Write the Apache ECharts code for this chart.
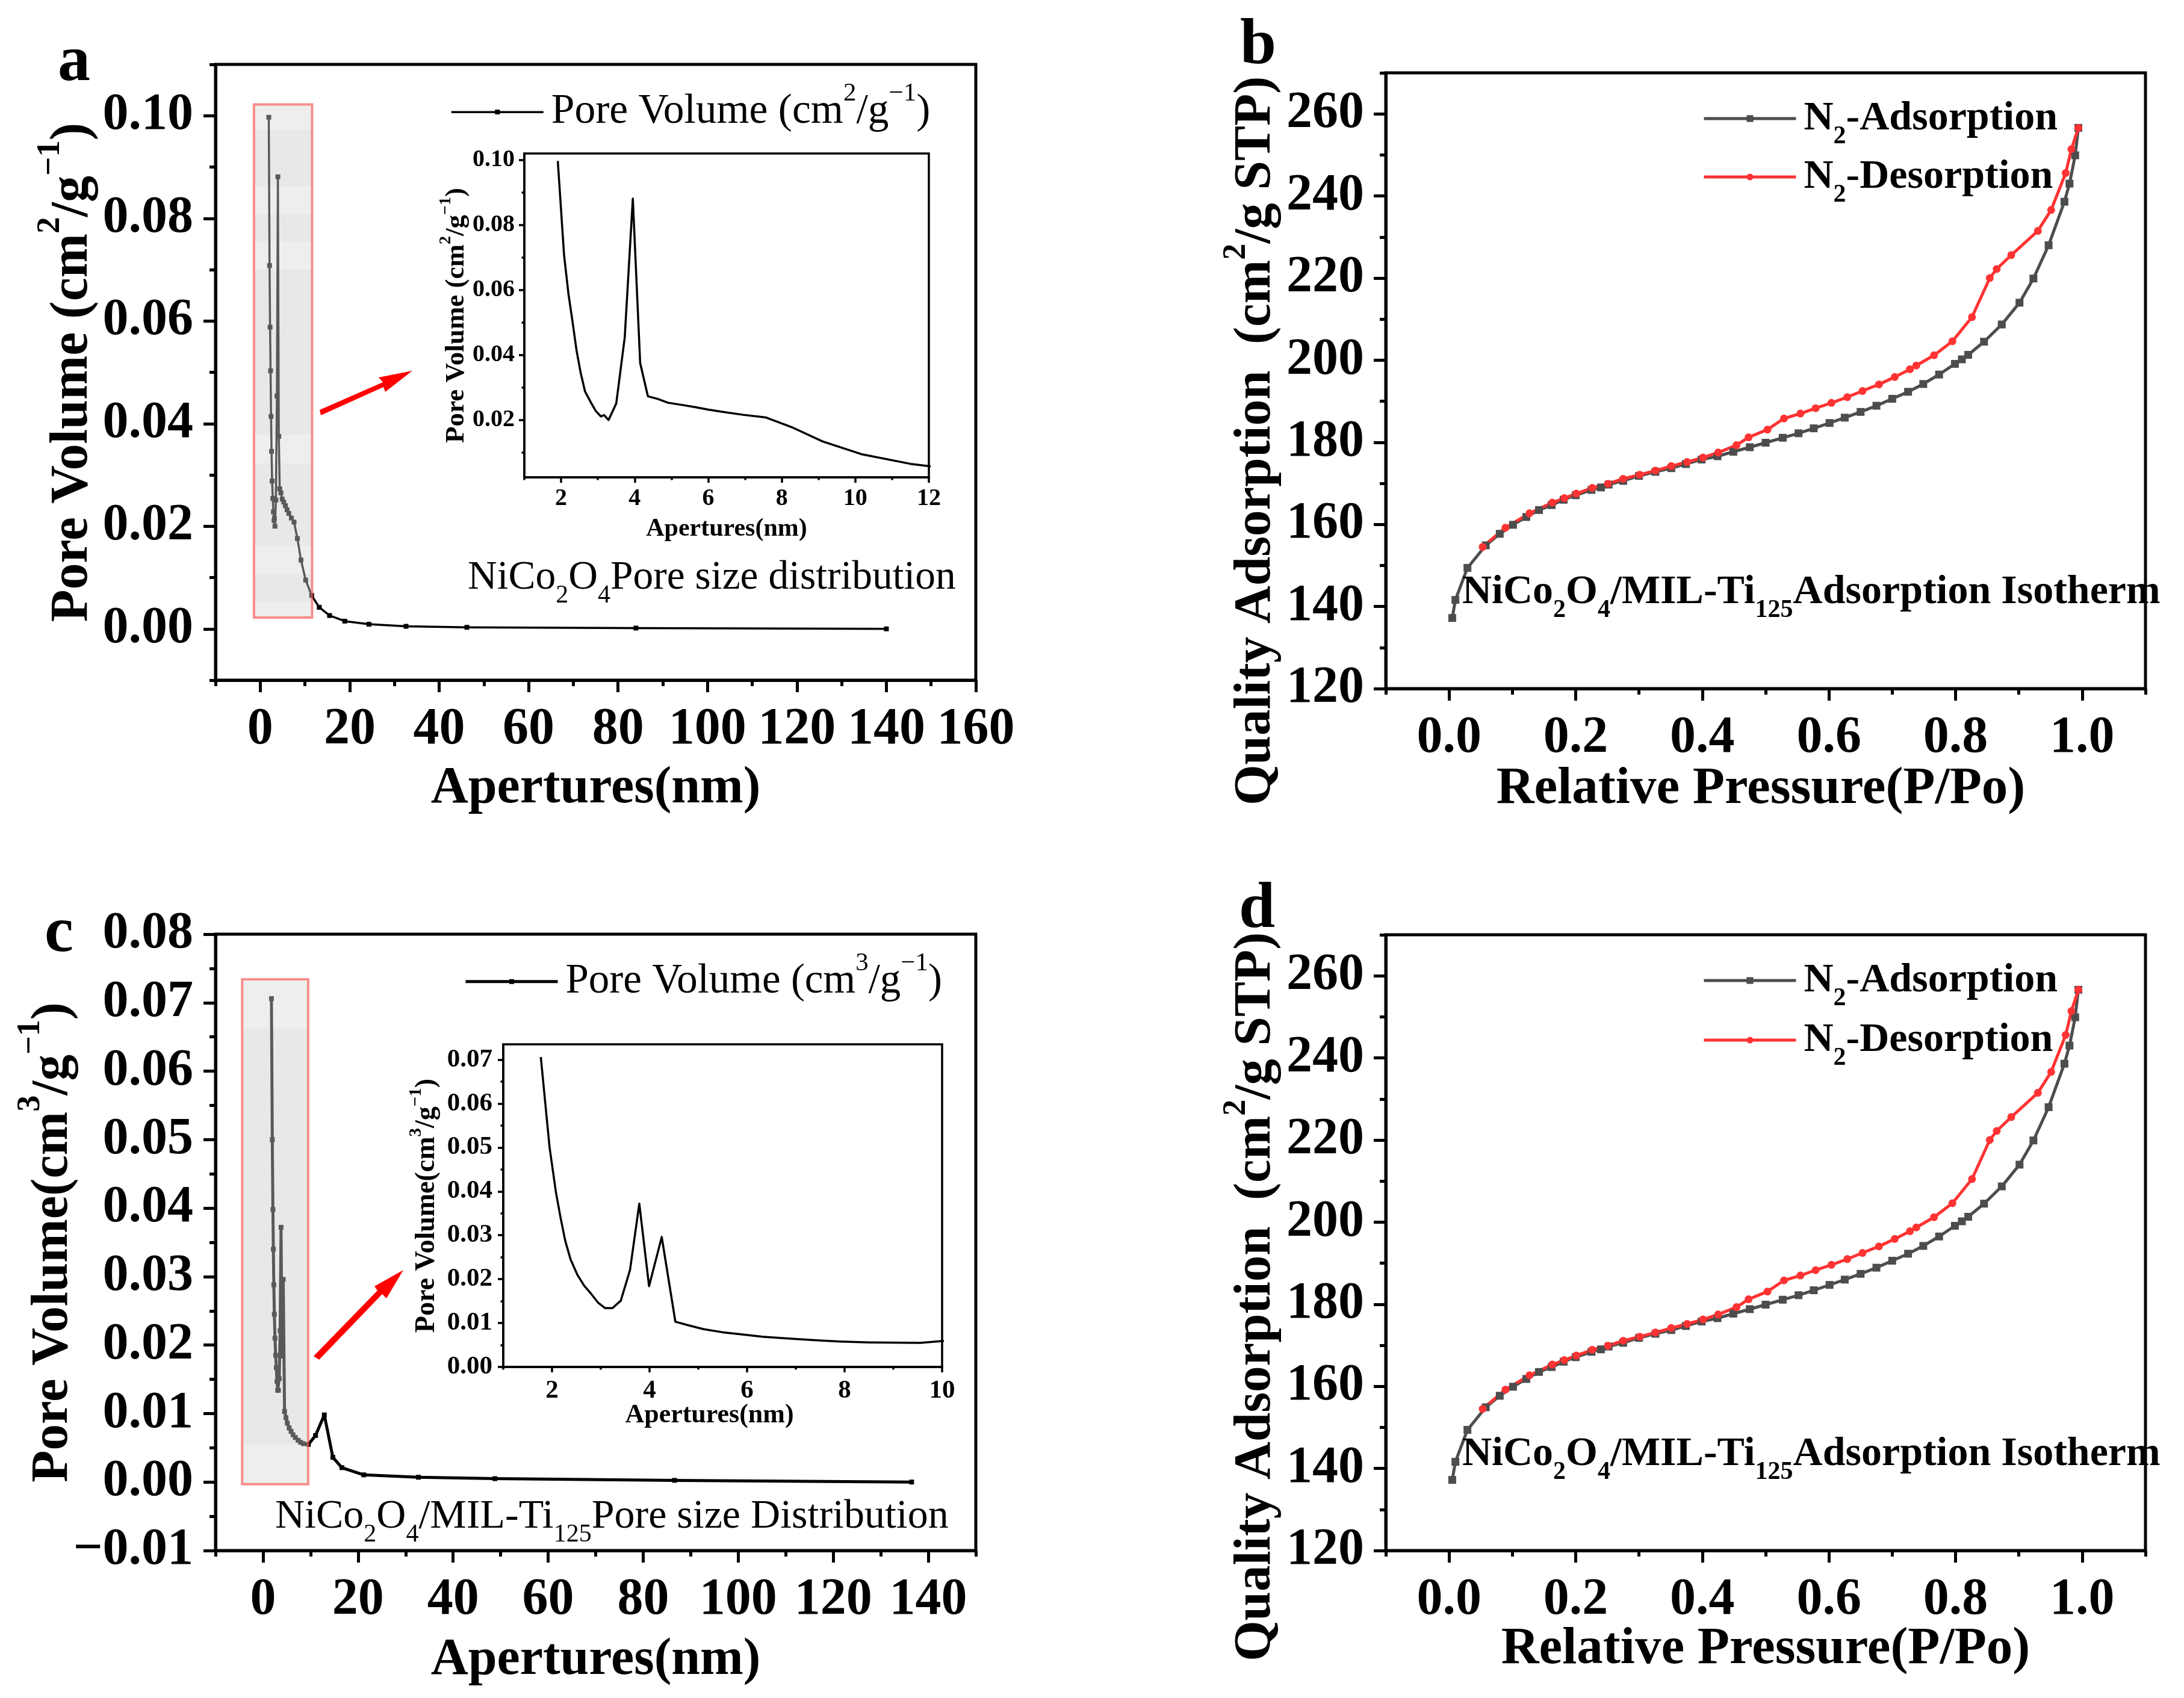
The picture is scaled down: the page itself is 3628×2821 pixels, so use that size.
<!DOCTYPE html>
<html><head><meta charset="utf-8">
<style>html,body{margin:0;padding:0;background:#fff}#c{width:3628px;height:2821px}</style>
<script src="https://cdn.jsdelivr.net/npm/echarts@6/dist/echarts.min.js"></script>
</head><body><div id="c"></div>
<script>
// ---- data ----
const poreAX=[1.91,2.08,2.20,2.31,2.42,2.53,2.65,2.81,2.94,3.08,3.17,3.29,3.50,3.73,3.95,4.15,4.36,4.62,4.91,5.25,5.63,6.0,6.39,6.95,7.56,8.31,9.11,10.16,11.5,13.2,15.5,18.9,24.3,32.6,46.2,84,140];
const poreAY=[.0997,.0708,.0588,.0503,.0414,.0346,.0288,.0254,.0228,.0211,.0215,.0200,.0251,.0454,.0881,.0375,.0273,.0265,.0253,.0247,.0240,.0232,.0225,.0216,.0208,.0176,.0134,.0095,.0065,.0042,.0026,.0015,.0009,.0005,.0003,.00015,0];
const poreCX=[1.77,1.95,2.08,2.175,2.27,2.38,2.52,2.66,2.8,2.94,3.09,3.24,3.41,3.6,3.79,3.99,4.25,4.53,4.83,5.11,5.5,5.9,6.31,6.8,7.38,7.9,8.5,9.55,11.05,12.9,14.7,16.6,21.2,32.7,48.8,86.6,136.5];
const poreCY=[.0706,.0500,.0398,.0340,.0288,.0245,.0210,.0185,.0167,.0147,.0134,.0134,.0151,.0221,.0372,.0184,.0296,.0103,.0094,.0086,.0079,.0074,.0069,.0065,.0061,.0058,.0056,.0055,.0068,.0098,.0036,.0021,.00105,.0007,.0005,.00025,0];
const adsX=[.005,.010,.029,.058,.080,.101,.122,.142,.162,.181,.200,.225,.240,.252,.275,.300,.326,.351,.374,.399,.424,.449,.475,.500,.527,.552,.576,.601,.625,.650,.675,.700,.725,.749,.774,.799,.810,.820,.845,.873,.901,.923,.947,.972,.980,.989,.994];
const adsY=[137.2,141.6,149.4,154.9,157.7,159.9,161.8,163.5,164.7,166.0,167.1,168.4,169,169.7,170.6,171.8,172.8,173.7,174.7,175.8,176.6,177.7,178.8,179.9,181.1,182.2,183.4,184.7,186,187.4,188.9,190.6,192.3,194.2,196.5,199.1,200.2,201.3,204.5,208.7,214,219.9,228,238.6,243,249.9,256.6];
const desX=[.994,.983,.974,.951,.930,.888,.865,.854,.826,.795,.766,.738,.728,.704,.679,.653,.629,.604,.579,.555,.529,.503,.473,.454,.425,.401,.376,.351,.326,.301,.275,.251,.226,.201,.182,.163,.127,.089,.053];
const desY=[256.6,251.4,245.6,236.6,231.5,225.6,222.2,220,210.5,204.6,201.2,198.7,197.8,195.9,194.1,192.5,191,189.6,188.3,187,185.8,183.1,181.2,179.3,177.5,176.3,175.2,174.2,173.1,172.1,171.1,169.9,168.9,167.5,166.4,165.3,162.7,159.2,154.5];
// highlight boxes in data units: x from, x to, y top, y bottom, kind (0 pale band, 1 darker band)
const boxABands=[[-1.4,11.6,.1022,.0972,0],[-1.4,11.6,.0972,.0862,1],[-1.4,11.6,.0862,.0809,0],[-1.4,11.6,.0809,.0755,1],[-1.4,11.6,.0755,.0701,0],[-1.4,11.6,.0701,.0378,1],[-1.4,11.6,.0378,.0323,0],[-1.4,11.6,.0323,.0161,1],[-1.4,11.6,.0161,.0107,0],[-1.4,11.6,.0107,.0052,1],[-1.4,11.6,.0052,.0022,0]];
const boxAFrame=[[-1.4,11.6,.1022,.0022,2]];
const boxCBands=[[-4.4,9.5,.0734,.0662,0],[-4.4,9.5,.0662,.0055,1],[-4.4,9.5,.0055,-.0003,0]];
const boxCFrame=[[-4.4,9.5,.0734,-.0003,2]];
// tick values
const range=(a,b,s)=>{const r=[];for(let i=0;a+i*s<=b+s*1e-6;i++)r.push(+(a+i*s).toFixed(4));return r;};
const aXMajor=range(0,160,20),aXMinor=range(-10,150,20),aYMajor=range(0,.10,.02),aYMinor=range(-.01,.11,.02);
const bXMajor=range(0,1,.2),bXMinor=range(-.1,1.1,.2),bYMajor=range(120,260,20),bYMinor=range(130,270,20);
const cXMajor=range(0,140,20),cXMinor=range(-10,150,20),cYMajor=range(-.01,.08,.01),cYMinor=range(-.005,.075,.01);
const iaXMajor=range(2,12,2),iaXMinor=range(1,11,2),iaYMajor=range(.02,.10,.02),iaYMinor=range(.01,.09,.02);
const icXMajor=range(2,10,2),icXMinor=range(1,9,2),icYMajor=range(0,.07,.01),icYMinor=range(.005,.065,.01);

const F='Liberation Serif';
const zip=(x,y)=>x.map((v,i)=>[v,y[i]]);
function rich(size,bold,lh){const w=bold?'bold':'normal',s=Math.round(size*.62);const base={fontFamily:F,fontWeight:w,color:'#000'};
 return {n:{...base,fontSize:size,lineHeight:lh},u:{...base,fontSize:s,verticalAlign:'top',lineHeight:s},d:{...base,fontSize:s,verticalAlign:'bottom',lineHeight:s}};}

const grid=[],xAxis=[],yAxis=[],series=[],legend=[];
function panel(o){
 const g=grid.length;
 grid.push({left:o.l,top:o.t,width:o.r-o.l,height:o.b-o.t,show:true,borderColor:'#000',borderWidth:o.lw,backgroundColor:'transparent',z:1});
 const fmtX=v=>v.toFixed(o.xd),fmtY=v=>v.toFixed(o.yd).replace('-','\u2212');
 const lab=(extra)=>({fontFamily:F,fontWeight:'bold',fontSize:o.fs,color:'#000',showMinLabel:true,showMaxLabel:true,hideOverlap:false,...extra});
 const nm=(a)=>({nameLocation:'middle',nameGap:a.gap,name:a.text,nameMoveOverlap:false,nameTextStyle:{rich:rich(a.size,true,a.lh),padding:a.pad||0}});
 xAxis.push({type:'value',gridIndex:g,min:o.x[0],max:o.x[1],splitLine:{show:false},scale:true,
   axisLine:{show:true,onZero:false,lineStyle:{color:'#000',width:o.lw}},
   axisTick:{show:true,customValues:o.xMajor,length:o.tk,lineStyle:{color:'#000',width:o.lw}},
   axisLabel:lab({customValues:o.xMajor,margin:o.mx,formatter:fmtX}),...nm(o.xName)});
 xAxis.push({type:'value',gridIndex:g,min:o.x[0],max:o.x[1],splitLine:{show:false},scale:true,position:'bottom',
   axisLine:{show:false,onZero:false},axisLabel:{show:false},
   axisTick:{show:true,customValues:o.xMinor,length:o.tk/2,lineStyle:{color:'#000',width:o.lw}}});
 yAxis.push({type:'value',gridIndex:g,min:o.y[0],max:o.y[1],splitLine:{show:false},scale:true,
   axisLine:{show:true,onZero:false,lineStyle:{color:'#000',width:o.lw}},
   axisTick:{show:true,customValues:o.yMajor,length:o.tk,lineStyle:{color:'#000',width:o.lw}},
   axisLabel:lab({customValues:o.yMajor,margin:o.my,formatter:fmtY}),...nm(o.yName)});
 yAxis.push({type:'value',gridIndex:g,min:o.y[0],max:o.y[1],splitLine:{show:false},scale:true,position:'left',
   axisLine:{show:false,onZero:false},axisLabel:{show:false},
   axisTick:{show:true,customValues:o.yMinor,length:o.tk/2,lineStyle:{color:'#000',width:o.lw}}});
 return 2*g;
}
function line(ax,name,data,color,w,sym,size){
 series.push({type:'line',name,xAxisIndex:ax,yAxisIndex:ax,data,clip:true,smooth:false,animation:false,
  showSymbol:!!sym,symbol:sym||'none',symbolSize:size,lineStyle:{color,width:w,join:'round'},itemStyle:{color},z:2});
}
function box(ax,data){
 const st=[{fill:'rgba(214,214,214,.42)'},{fill:'rgba(203,203,203,.44)'},{fill:'none',stroke:'rgba(255,70,70,.6)',lineWidth:4}];
 series.push({type:'custom',name:'box',xAxisIndex:ax,yAxisIndex:ax,data,z:6,silent:true,clip:false,animation:false,encode:{x:[0,1],y:[2,3]},
  renderItem:(p,api)=>{const a=api.coord([api.value(0),api.value(2)]),b=api.coord([api.value(1),api.value(3)]);
   return {type:'rect',shape:{x:a[0],y:a[1],width:b[0]-a[0],height:b[1]-a[1]},style:st[api.value(4)]};}});
}
function leg(left,top,names,gap,size,h,w,texts,bold,lw){
 legend.push({show:true,left,top,orient:'vertical',data:names,itemGap:gap,itemWidth:w,itemHeight:h,padding:0,selectedMode:false,
  formatter:n=>texts[n],lineStyle:{width:lw},textStyle:{rich:rich(size,bold,size*1.5),padding:[0,0,0,8]}});
}
const sp1='\u00a0',sp2='\u00a0\u00a0';
// panel a
let ax=panel({l:358,r:1621,t:107,b:1130,x:[-10,160],y:[-.01,.11],xMajor:aXMajor,xMinor:aXMinor,yMajor:aYMajor,yMinor:aYMinor,xd:0,yd:2,fs:86,lw:5,tk:20,mx:40,my:37,
 xName:{text:'{n|Apertures(nm)}',size:86,lh:100,gap:131},yName:{text:'{n|Pore Volume (cm}{u|2}{n|/g}{u|\u22121}{n|)}',size:88,lh:130,gap:172}});
line(ax,'Pore Volume (cm2/g-1)',zip(poreAX,poreAY),'#000',3.5,'rect',8);
box(ax,boxABands);box(ax,boxAFrame);
// panel b
ax=panel({l:2302,r:3564,t:121,b:1144,x:[-.1,1.1],y:[120,270],xMajor:bXMajor,xMinor:bXMinor,yMajor:bYMajor,yMinor:bYMinor,xd:1,yd:0,fs:86,lw:5,tk:20,mx:40,my:36,
 xName:{text:'{n|Relative Pressure(P/Po)}',size:87,lh:100,gap:118,pad:[0,16,0,0]},yName:{text:'{n|Quality'+sp1+'Adsorption'+sp2+'(cm}{u|2}{n|/g STP)}',size:87,lh:120,gap:155,pad:[0,200,0,0]}});
line(ax,'N2-Adsorption b',zip(adsX,adsY),'#4d4d4d',5,'rect',13);
line(ax,'N2-Desorption b',zip(desX,desY),'#ff3333',5,'circle',13);
// panel c
ax=panel({l:358,r:1621,t:1552,b:2576,x:[-10,150],y:[-.01,.08],xMajor:cXMajor,xMinor:cXMinor,yMajor:cYMajor,yMinor:cYMinor,xd:0,yd:2,fs:86,lw:5,tk:20,mx:40,my:37,
 xName:{text:'{n|Apertures(nm)}',size:86,lh:100,gap:133},yName:{text:'{n|Pore Volume(cm}{u|3}{n|/g}{u|\u22121}{n|)}',size:87,lh:130,gap:204}});
line(ax,'Pore Volume (cm3/g-1)',zip(poreCX,poreCY),'#000',5,'rect',8);
box(ax,boxCBands);box(ax,boxCFrame);
// panel d
ax=panel({l:2302,r:3564,t:1553,b:2576,x:[-.1,1.1],y:[120,270],xMajor:bXMajor,xMinor:bXMinor,yMajor:bYMajor,yMinor:bYMinor,xd:1,yd:0,fs:86,lw:5,tk:20,mx:40,my:36,
 xName:{text:'{n|Relative Pressure(P/Po)}',size:87,lh:100,gap:115},yName:{text:'{n|Quality'+sp1+'Adsorption'+sp2+'(cm}{u|2}{n|/g STP)}',size:87,lh:120,gap:155,pad:[0,180,0,0]}});
line(ax,'N2-Adsorption d',zip(adsX,adsY),'#4d4d4d',5,'rect',13);
line(ax,'N2-Desorption d',zip(desX,desY),'#ff3333',5,'circle',13);
// inset a
ax=panel({l:871,r:1543,t:255,b:793,x:[1,12],y:[.00236,.102],xMajor:iaXMajor,xMinor:iaXMinor,yMajor:iaYMajor,yMinor:iaYMinor,xd:0,yd:2,fs:40,lw:3.5,tk:9,mx:16,my:16,
 xName:{text:'{n|Apertures(nm)}',size:42,lh:48,gap:62},yName:{text:'{n|Pore Volume (cm}{u|2}{n|/g}{u|\u22121}{n|)}',size:45,lh:62,gap:82}});
line(ax,'inset a',zip(poreAX,poreAY),'#000',3.5);
// inset c
ax=panel({l:836,r:1565,t:1735,b:2271,x:[1,10],y:[0,.0735],xMajor:icXMajor,xMinor:icXMinor,yMajor:icYMajor,yMinor:icYMinor,xd:0,yd:2,fs:43,lw:3.5,tk:9,mx:18,my:18,
 xName:{text:'{n|Apertures(nm)}',size:44,lh:50,gap:56,pad:[0,44,0,0]},yName:{text:'{n|Pore Volume(cm}{u|3}{n|/g}{u|\u22121}{n|)}',size:46,lh:64,gap:95}});
line(ax,'inset c',zip(poreCX,poreCY),'#000',3.5);

// legends
const lt={'Pore Volume (cm2/g-1)':'{n|Pore Volume (cm}{u|2}{n|/g}{u|\u22121}{n|)}','Pore Volume (cm3/g-1)':'{n|Pore Volume (cm}{u|3}{n|/g}{u|\u22121}{n|)}',
 'N2-Adsorption b':'{n|N}{d|2}{n|-Adsorption}','N2-Desorption b':'{n|N}{d|2}{n|-Desorption}','N2-Adsorption d':'{n|N}{d|2}{n|-Adsorption}','N2-Desorption d':'{n|N}{d|2}{n|-Desorption}'};
leg(748,134,['Pore Volume (cm2/g-1)'],0,69.5,10,153,lt,false,3.5);
leg(771,1579,['Pore Volume (cm3/g-1)'],0,69,10,153,lt,false,5);
leg(2828,163,['N2-Adsorption b','N2-Desorption b'],12,68,14,153,lt,true,5);
leg(2828,1595,['N2-Adsorption d','N2-Desorption d'],14,68,14,153,lt,true,5);

// text annotations and arrows
function txt(x,y,t,size,bold,lh){return {type:'text',x,y,z:20,style:{text:t,rich:rich(size,bold,lh||size*1.5),textAlign:'left',textVerticalAlign:'middle'}};}
function letter(x,y,t){return {type:'text',x,y,z:20,style:{text:t,fontFamily:F,fontWeight:'bold',fontSize:108,fill:'#000',textVerticalAlign:'middle'}};}
const graphic=[
 letter(96,105,'a'),letter(2060,77,'b'),letter(74,1552,'c'),letter(2058,1512,'d'),
 txt(777,960,'{n|NiCo}{d|2}{n|O}{d|4}{n|Pore size distribution}',67.5,false),
 txt(457,2520,'{n|NiCo}{d|2}{n|O}{d|4}{n|/MIL-Ti}{d|125}{n|Pore size Distribution}',68,false),
 txt(2429,984,'{n|NiCo}{d|2}{n|O}{d|4}{n|/MIL-Ti}{d|125}{n|Adsorption Isotherm}',68,true),
 txt(2429,2416,'{n|NiCo}{d|2}{n|O}{d|4}{n|/MIL-Ti}{d|125}{n|Adsorption Isotherm}',68,true),
 {type:'polygon',z:20,shape:{points:[[531,681],[636,635],[629,627],[685,616],[640,651],[637,643],[533,690]]},style:{fill:'#ff0000'}},
 {type:'polygon',z:20,shape:{points:[[521,2253],[627,2144],[622,2137],[670,2110],[642,2157],[635,2150],[530,2259]]},style:{fill:'#ff0000'}}
];
const chart=echarts.init(document.getElementById('c'),null,{renderer:'canvas'});
chart.setOption({animation:false,backgroundColor:'#fff',grid,xAxis,yAxis,series,legend,graphic});
</script></body></html>
